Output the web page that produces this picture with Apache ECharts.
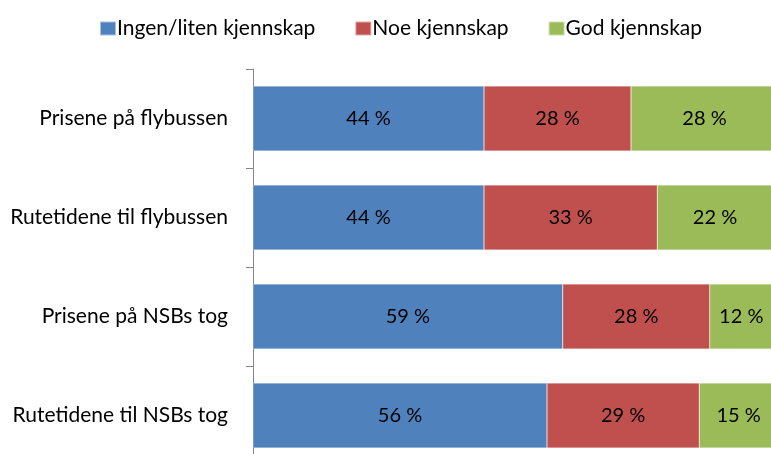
<!DOCTYPE html>
<html>
<head>
<meta charset="utf-8">
<script src="https://cdn.jsdelivr.net/npm/echarts@6/dist/echarts.min.js"></script>
<style>
  html, body { margin: 0; padding: 0; background: #fff; overflow: hidden; }
  /* the chart runs past the window on the right and bottom, like the original */
  #chart { width: 778px; height: 465px; }
</style>
</head>
<body>
<div id="chart"></div>
<script>
// kategorier (ovenfra og ned)
const categories = ['Prisene på flybussen', 'Rutetidene til flybussen', 'Prisene på NSBs tog', 'Rutetidene til NSBs tog'];
const seriesNames = ['Ingen/liten kjennskap', 'Noe kjennskap', 'God kjennskap'];
const ingen = [44, 44, 59, 56];
const noe = [28, 33, 28, 29];
const god = [28, 22, 12, 15];
const colors = ['#4F81BD', '#C0504D', '#9BBB59'];

const FONT = 'Lato';

const chart = echarts.init(document.getElementById('chart'));

function barSeries(name, data, color) {
    return {
        name: name,
        type: 'bar',
        stack: 'total',
        data: data,
        barWidth: 65,
        itemStyle: { color: color, borderColor: 'rgba(255,255,255,0.5)', borderWidth: 0.5 },
        label: {
            show: true,
            position: 'inside',
            formatter: '{c} %',
            color: '#000',
            fontFamily: FONT,
            fontSize: 20
        },
        emphasis: { disabled: true }
    };
}

const option = {
    backgroundColor: '#ffffff',
    animation: false,
    color: colors,
    legend: {
        top: 18,
        left: 99,
        padding: 0,
        itemWidth: 16,
        itemHeight: 14,
        itemGap: 39,
        icon: 'rect',
        textStyle: { fontFamily: FONT, fontSize: 21, color: '#000', padding: [0, 0, 0, -4] },
        data: seriesNames
    },
    grid: { left: 253, top: 69, right: 0, bottom: 0, containLabel: false },
    xAxis: {
        type: 'value',
        min: 0,
        max: 100,
        show: false
    },
    yAxis: {
        type: 'category',
        inverse: true,
        data: categories,
        axisLine: { lineStyle: { color: '#868686', width: 1 } },
        axisTick: { show: true, length: 7, lineStyle: { color: '#868686', width: 1 } },
        axisLabel: { margin: 25, color: '#000', fontFamily: FONT, fontSize: 21 }
    },
    series: [
        barSeries(seriesNames[0], ingen, colors[0]),
        barSeries(seriesNames[1], noe, colors[1]),
        barSeries(seriesNames[2], god, colors[2])
    ]
};

chart.setOption(option);
</script>
</body>
</html>
